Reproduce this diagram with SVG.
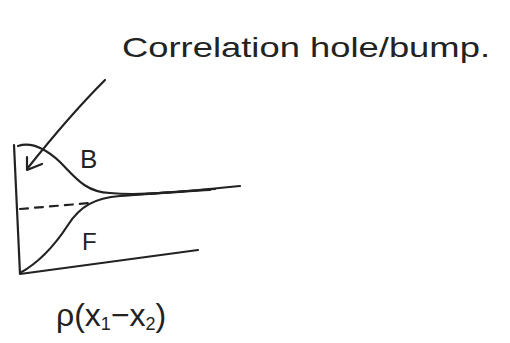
<svg xmlns="http://www.w3.org/2000/svg" width="510" height="343" viewBox="0 0 510 343">
<style>
.ink{fill:none;stroke:#222;stroke-width:2.2;stroke-linecap:round;stroke-linejoin:round}
.txt{font-family:"Liberation Sans",Arial,sans-serif;fill:#222}
</style>
<rect width="510" height="343" fill="#fff"/>
<g id="axes">
<path class="ink" d="M14,145 L20,274 L198,250"/>
</g>
<g id="curves">
<path id="curveB" class="ink" d="M18,146 C30,142 45,148 60,162 C75,177 85,192 110,193 C140,196 180,192 240,186"/>
<path id="curveF" class="ink" d="M20,273 C40,262 55,245 68,225 C80,206 95,198 120,196 C150,193 180,192 210,190"/>
<path class="ink" d="M130,195 C160,193 190,191 215,189" stroke-width="3.5"/>
<path id="baseline" class="ink" d="M20,209 L90,203" stroke-dasharray="8,7"/>
</g>
<g id="connectors">
<path class="ink" d="M105,80 C80,105 50,140 27,169"/>
<path class="ink" d="M27,157 L27,170 L42,164"/>
</g>
<g id="labels">
<text class="txt" x="122" y="57" font-size="28" textLength="368" lengthAdjust="spacingAndGlyphs">Correlation hole/bump.</text>
<text class="txt" x="80" y="168" font-size="26">B</text>
<text class="txt" x="82" y="250" font-size="24">F</text>
<text class="txt" x="56" y="326" font-size="32">ρ(x<tspan font-size="18" dy="4">1</tspan><tspan dy="-4">−x</tspan><tspan font-size="18" dy="4">2</tspan><tspan dy="-4">)</tspan></text>
</g>
</svg>
